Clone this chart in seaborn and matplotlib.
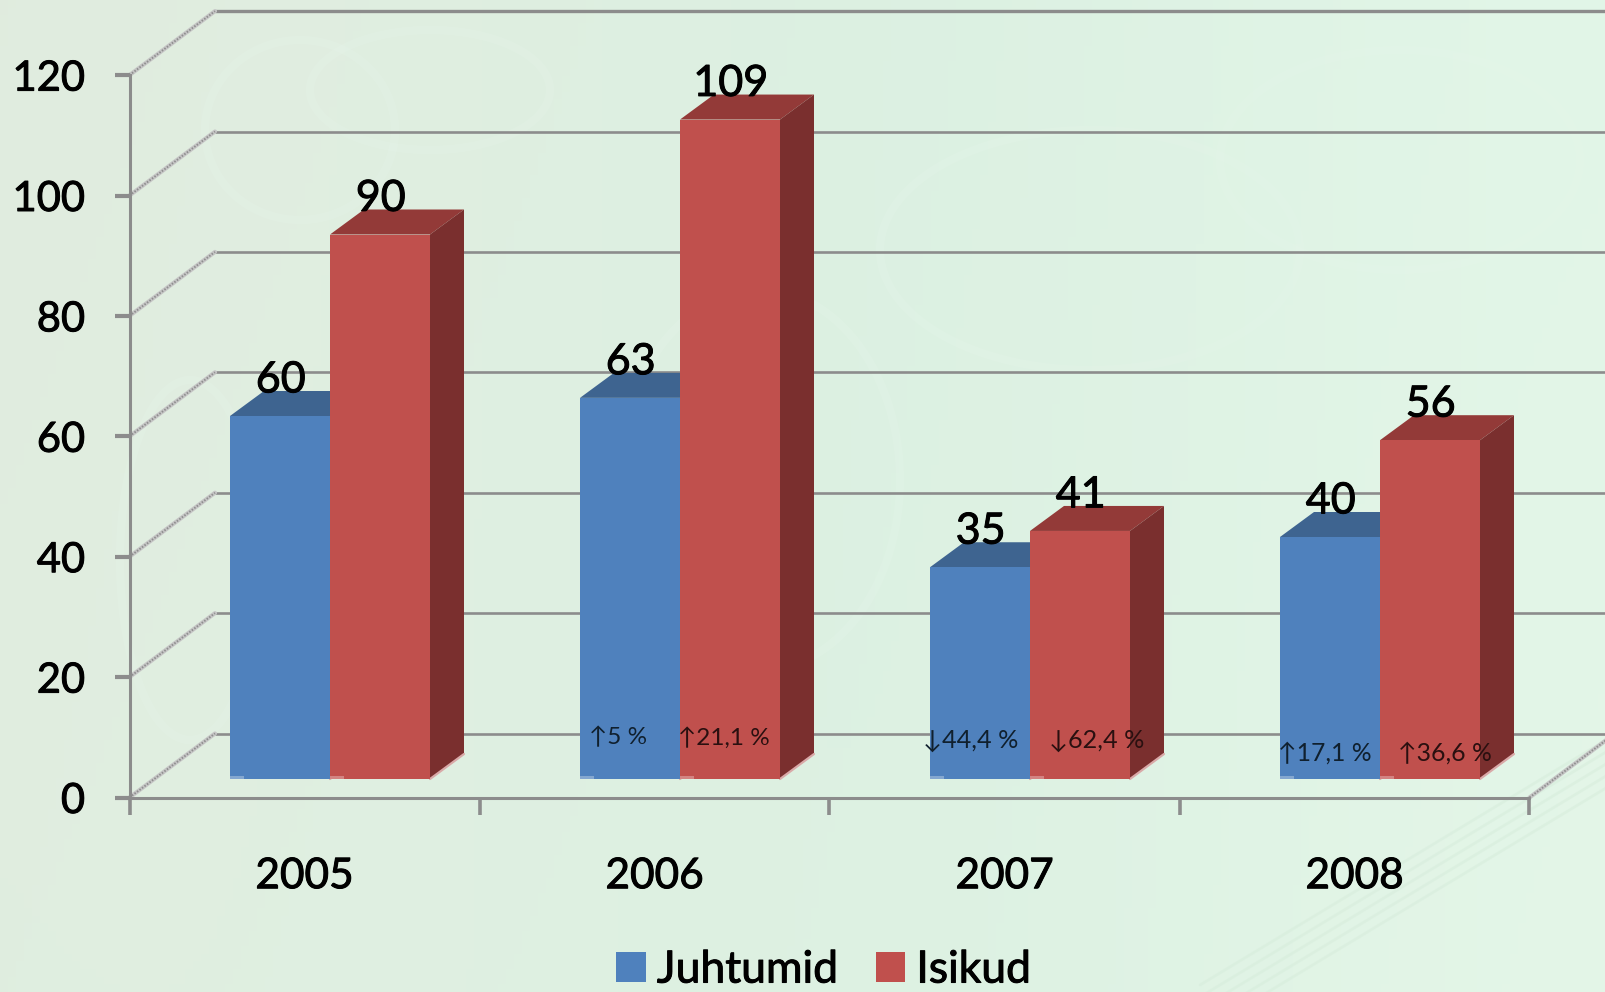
import numpy as np
import pandas as pd
import matplotlib
matplotlib.use("Agg")
import matplotlib.pyplot as plt
import matplotlib.patheffects as pe
from matplotlib.patches import Polygon, Rectangle
from matplotlib.ticker import FixedLocator, NullFormatter, FixedFormatter
from matplotlib.transforms import IdentityTransform
import seaborn as sns

# ---------- data ----------
years = ["2005", "2006", "2007", "2008"]
juhtumid = [60, 63, 35, 40]
isikud = [90, 109, 41, 56]
series_names = ["Juhtumid", "Isikud"]
y_ticks = [0, 20, 40, 60, 80, 100, 120]
change_juhtumid = ["", "↑5 %", "↓44,4 %", "↑17,1 %"]
change_isikud = ["", "↑21,1 %", "↓62,4 %", "↑36,6 %"]

# ---------- style / layout (pixels of the 1606x992 canvas) ----------
W, H = 1606, 992
BLUE, RED = "#4F81BD", "#C0504D"
BLUE_TOP, RED_TOP = "#3E6490", "#933A38"
BLUE_SIDE, RED_SIDE = "#2F4F75", "#7A2F2E"
GRID = "#8C8C8C"
X0, X1, Y0, PX_PER_UNIT = 129.5, 1529.5, 797.5, 6.02
BACK_DX, BACK_DY = 85.5, 64
BAR_DX, BAR_DY = 34, 25
BAR_SHIFT, BAR_BASE, BAR_SCALE = 25.5, 779, 6.05
change_pos_j = [None, (589, 738, 17.5), (923, 740, 18.2), (1278, 753, 17.8)]
change_pos_i = [None, (678, 738, 17.5), (1049, 740, 18.2), (1398, 753, 17.8)]

sns.set_theme(style="white")
FONT = ["Lato", "DejaVu Sans"]
plt.rcParams["font.family"] = FONT
HEAVY = [pe.withStroke(linewidth=0.7, foreground="black")]


def rect_px(left, top, right, bottom):
    return [left / W, 1 - bottom / H, (right - left) / W, (bottom - top) / H]


fig = plt.figure(figsize=(W / 100, H / 100), dpi=100)

# ---------- background and back wall ----------
bg = fig.add_axes([0, 0, 1, 1], zorder=0)
bg.set_xlim(0, W)
bg.set_ylim(H, 0)
bg.axis("off")
corners = np.array([[[225, 236, 223], [226, 246, 232]],
                    [[224, 238, 224], [228, 246, 232]]], dtype=float) / 255
u, v = np.meshgrid(np.linspace(0, 1, 200), np.linspace(0, 1, 130))
grad = ((1 - v) * (1 - u))[..., None] * corners[0, 0] + ((1 - v) * u)[..., None] * corners[0, 1] \
    + (v * (1 - u))[..., None] * corners[1, 0] + (v * u)[..., None] * corners[1, 1]
mid = np.exp(-((u - 0.55) ** 2) / 0.08)[..., None] * np.array([-5, -1, -2]) / 255
bg.imshow(np.clip(grad + mid, 0, 1), extent=[0, W, H, 0], aspect="auto", zorder=0)

# faint watermark texture
faint = "#E6F5EA"
t = np.linspace(0, 2 * np.pi, 200)
for cx, cy, rx, ry in [(300, 130, 95, 90), (430, 90, 120, 60), (190, 560, 70, 180),
                       (1090, 250, 210, 120), (1400, 160, 180, 110), (760, 480, 140, 190)]:
    bg.plot(cx + rx * np.cos(t), cy + ry * np.sin(t), color=faint, lw=6, alpha=0.25, zorder=1)
for off in range(0, 50, 12):
    bg.plot([1200, 1606], [985 + off, 740 + off], color="#D6ECDB", lw=2, alpha=0.5, zorder=1)

for val in y_ticks:
    yf = Y0 - val * PX_PER_UNIT
    yb = yf - BACK_DY
    lw = 2.4 if val == 120 else 1.9
    bg.plot([X0 + BACK_DX, W], [yb, yb], color=GRID, lw=lw, zorder=2, solid_capstyle="butt")
    bg.plot([X0, X0 + BACK_DX], [yf, yb], color="#C6C6C6", lw=3, zorder=2)
    bg.plot([X0, X0 + BACK_DX], [yf, yb], color="#8F8F8F", lw=1.4, ls=(0, (0.8, 0.8)), zorder=2.1)
bg.plot([X1, X1 + BACK_DX], [Y0, Y0 - BACK_DY], color="#C6C6C6", lw=3, zorder=2)
bg.plot([X1, X1 + BACK_DX], [Y0, Y0 - BACK_DY], color="#8F8F8F", lw=1.4, ls=(0, (0.8, 0.8)), zorder=2.1)

# ---------- front axis ----------
front = fig.add_axes(rect_px(X0, Y0 - 120 * PX_PER_UNIT, X1, Y0), zorder=1)
front.patch.set_alpha(0)
front.set_xlim(-0.5, 3.5)
front.set_ylim(0, 120)
for s in ["top", "right"]:
    front.spines[s].set_visible(False)
for s in ["left", "bottom"]:
    front.spines[s].set_color(GRID)
    front.spines[s].set_linewidth(2.2)
front.set_yticks(y_ticks)
front.set_yticklabels([str(v) for v in y_ticks])
front.xaxis.set_major_locator(FixedLocator(np.arange(-0.5, 4, 1)))
front.xaxis.set_major_formatter(NullFormatter())
front.xaxis.set_minor_locator(FixedLocator(np.arange(0, 4)))
front.xaxis.set_minor_formatter(FixedFormatter(years))
front.tick_params(axis="y", which="major", length=11, width=3, color=GRID, pad=21,
                  labelsize=30, labelcolor="black", left=True)
front.tick_params(axis="x", which="major", length=12.5, width=2.6, color=GRID, bottom=True)
front.tick_params(axis="x", which="minor", length=0, pad=43, labelsize=30.5, labelcolor="black")
for lab in front.get_yticklabels() + front.get_xticklabels(minor=True):
    lab.set_path_effects(HEAVY)

# ---------- bars ----------
ax = fig.add_axes(rect_px(X0 + BAR_SHIFT, BAR_BASE - 120 * BAR_SCALE, X1 + BAR_SHIFT, BAR_BASE), zorder=2)
df = pd.DataFrame({
    "year": years * 2,
    "value": juhtumid + isikud,
    "series": [series_names[0]] * len(years) + [series_names[1]] * len(years),
})
sns.barplot(data=df, x="year", y="value", hue="series", hue_order=series_names,
            palette={series_names[0]: BLUE, series_names[1]: RED}, saturation=1,
            width=100 / 175, gap=0, dodge=True, linewidth=0, ax=ax)
ax.set_xlim(-0.5, 3.5)
ax.set_ylim(0, 120)
ax.patch.set_alpha(0)
for s in ax.spines.values():
    s.set_visible(False)
ax.set_xlabel("")
ax.set_ylabel("")
ax.set_xticks([])
ax.set_yticks([])
ax.grid(False)

fig.canvas.draw()
idt = IdentityTransform()
sides = [(BLUE_TOP, BLUE_SIDE, 1.0), (RED_TOP, RED_SIDE, 2.0)]
for cont, (ctop, cside, z) in zip(ax.containers, sides):
    for bar, val in zip(cont.patches, cont.datavalues):
        bar.set_zorder(z + 0.5)
        (l, b), (r, tp) = ax.transData.transform(
            [(bar.get_x(), 0), (bar.get_x() + bar.get_width(), bar.get_height())])
        ax.add_patch(Polygon([(l, tp), (r, tp), (r + BAR_DX, tp + BAR_DY), (l + BAR_DX, tp + BAR_DY)],
                             closed=True, fc=ctop, ec="none", transform=idt, clip_on=False, zorder=z))
        ax.add_patch(Polygon([(r, b), (r + BAR_DX, b + BAR_DY), (r + BAR_DX, tp + BAR_DY), (r, tp)],
                             closed=True, fc=cside, ec="none", transform=idt, clip_on=False, zorder=z))
        ax.plot([r, r + BAR_DX], [b, b + BAR_DY], color="#D9A9A8", lw=1.6, transform=idt,
                clip_on=False, zorder=z + 0.1)
        ax.add_patch(Rectangle((l, b), 14, 3, fc="white", alpha=0.3, ec="none",
                               transform=idt, clip_on=False, zorder=z + 0.6))
        ax.annotate(f"{val:.0f}", xy=(bar.get_x() + bar.get_width() / 2, val),
                    xytext=(0.5, BAR_DY * 0.72 - 1), textcoords="offset points",
                    ha="center", va="baseline", fontsize=31, color="black", zorder=5,
                    path_effects=HEAVY)

# ---------- change labels inside the bars ----------
for labels, positions, color in [(change_juhtumid, change_pos_j, "#10202E"),
                                 (change_isikud, change_pos_i, "#2A1010")]:
    for lab, pos in zip(labels, positions):
        if lab:
            x, y, fs = pos
            fig.text(x / W, 1 - y / H, lab, fontsize=fs, color=color, ha="left", va="center",
                     family=FONT, zorder=6)

# ---------- legend ----------
sns.move_legend(ax, "lower left", bbox_to_anchor=(612 / W, -3 / H), bbox_transform=fig.transFigure,
                ncol=2, frameon=False, title=None, fontsize=32, handlelength=0.66,
                handleheight=0.66, handletextpad=0.25, columnspacing=0.85, borderpad=0.1,
                borderaxespad=0, labelcolor="black")
for txt in ax.get_legend().get_texts():
    txt.set_path_effects(HEAVY)

fig.savefig("out.png", dpi=100)
